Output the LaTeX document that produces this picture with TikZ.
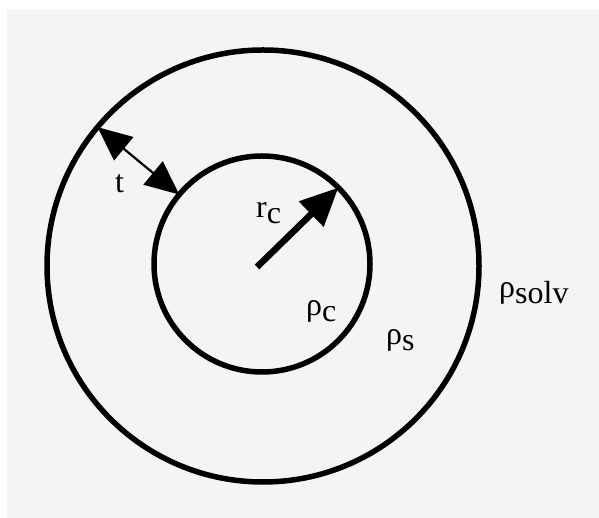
\documentclass[tikz,border=0pt]{standalone}
\usepackage{fontspec}
\setmainfont{Liberation Serif}
\usetikzlibrary{arrows.meta}
\definecolor{bggray}{RGB}{244,244,244}
\newcommand{\lowsub}[1]{\raisebox{-6bp}{#1}}
\tikzset{
  ring/.style={circle, draw=black, line width=5.5bp, inner sep=0pt, outer sep=0pt},
  lbl/.style={anchor=base west, inner sep=0pt, font=\fontsize{32bp}{34bp}\selectfont},
  radarrow/.style={line width=6.5bp, -{Triangle[length=38bp,width=34bp]}},
  thickarrow/.style={line width=2.2bp, {Triangle[length=34bp,width=30bp]}-{Triangle[length=34bp,width=30bp]}}
}
\begin{document}
\begin{tikzpicture}[x=1bp,y=1bp]
\useasboundingbox (0,0) rectangle (599,518);
\fill[white] (0,0) rectangle (599,518);
\fill[bggray] (7,0) rectangle (599,508);
\node[ring, minimum size=432bp] (outer) at (263,252) {};
\node[ring, minimum size=216bp] (inner) at (262,254) {};
\coordinate (ctr) at (257,251);
\draw[radarrow] (ctr) -- (inner.45);
\draw[thickarrow] (outer.140) -- (inner.140);
\node[lbl] (t) at (115,325) {t};
\node[lbl] (rc) at (256,300) {r\lowsub{c}};
\node[lbl] (rhoc) at (306,202) {ρ\lowsub{c}};
\node[lbl] (rhos) at (386,173) {ρ\lowsub{s}};
\node[lbl] (rhosolv) at (499,220) {ρ\lowsub{solv}};
\end{tikzpicture}
\end{document}
